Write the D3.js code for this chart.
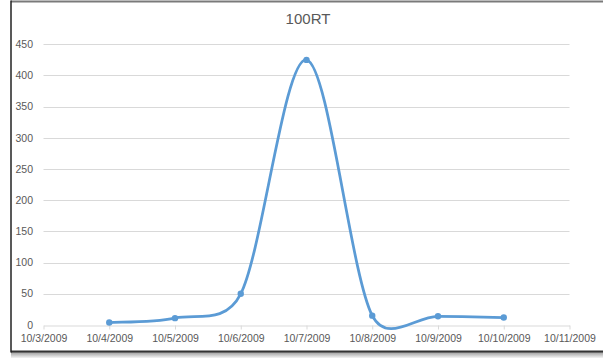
<!DOCTYPE html>
<html>
<head>
<meta charset="utf-8">
<title>100RT</title>
<style>
  body { margin: 0; background: #fff; }
  svg { display: block; font-family: "Liberation Sans", Arial, sans-serif; }
</style>
</head>
<body>
<svg width="603" height="358"></svg>
<script src="https://d3js.org/d3.v7.min.js"></script>
<script>
// data
var dates = ['10/3/2009', '10/4/2009', '10/5/2009', '10/6/2009', '10/7/2009',
             '10/8/2009', '10/9/2009', '10/10/2009', '10/11/2009'];
var values = [null, 4, 11, 50, 425, 15, 14, 12, null];
var yTicks = [0, 50, 100, 150, 200, 250, 300, 350, 400, 450];
var title = '100RT';

var svg = d3.select('svg');

// screenshot frame
var defs = svg.append('defs');
var grad = defs.append('linearGradient').attr('id', 'shadow')
  .attr('x1', 0).attr('y1', 0).attr('x2', 0).attr('y2', 1);
grad.append('stop').attr('offset', 0).attr('stop-color', '#9a9a9a');
grad.append('stop').attr('offset', 1).attr('stop-color', '#f4f4f4');
svg.append('rect').attr('x', 11).attr('y', 352).attr('width', 592).attr('height', 6)
  .attr('fill', 'url(#shadow)');
svg.append('line').attr('x1', 11).attr('x2', 603).attr('y1', 1.5).attr('y2', 1.5)
  .attr('stroke', '#7a7a7a').attr('stroke-width', 2);
svg.append('line').attr('x1', 11).attr('x2', 603).attr('y1', 351.5).attr('y2', 351.5)
  .attr('stroke', '#333').attr('stroke-width', 2);
svg.append('line').attr('x1', 11).attr('x2', 11).attr('y1', 0.5).attr('y2', 352.5)
  .attr('stroke', '#222').attr('stroke-width', 1.5);

var x = d3.scalePoint().domain(dates).range([43.5, 569.5]);
var y = d3.scaleLinear().domain([0, 450]).range([325, 44.3]);

// gridlines
svg.append('g').selectAll('line').data(yTicks.slice(1)).enter().append('line')
  .attr('x1', 43.5).attr('x2', 569.5)
  .attr('y1', function(d) { return Math.round(y(d)) + 0.5; })
  .attr('y2', function(d) { return Math.round(y(d)) + 0.5; })
  .attr('stroke', '#d9d9d9').attr('stroke-width', 1);

// y labels
svg.append('g').selectAll('text').data(yTicks).enter().append('text')
  .attr('x', 33).attr('y', function(d) { return y(d); })
  .attr('dy', '0.35em').attr('text-anchor', 'end')
  .attr('font-size', 10.5).attr('fill', '#595959')
  .text(function(d) { return d; });

// x axis
var xAxis = svg.append('g').attr('transform', 'translate(0,' + (Math.round(y(0)) + 0.5) + ')')
  .call(d3.axisBottom(x).tickSize(4).tickPadding(5).tickSizeOuter(0));
xAxis.select('.domain').attr('stroke', '#d9d9d9');
xAxis.selectAll('.tick line').attr('stroke', '#d9d9d9');
xAxis.selectAll('.tick text').attr('fill', '#595959')
  .attr('font-size', 10.5).attr('font-family', '"Liberation Sans", Arial, sans-serif');

// title
svg.append('text').attr('x', 308).attr('y', 24).attr('text-anchor', 'middle')
  .attr('font-size', 15).attr('fill', '#595959').text(title);

// spreadsheet-style smoothing: bezier with 1/6 tangents, clamped to half the segment
function curveSmooth(context) {
  var pts;
  function dist(a, b) { return Math.hypot(a[0] - b[0], a[1] - b[1]); }
  return {
    areaStart: function() {}, areaEnd: function() {},
    lineStart: function() { pts = []; },
    point: function(px, py) { pts.push([+px, +py]); },
    lineEnd: function() {
      var n = pts.length;
      if (!n) return;
      context.moveTo(pts[0][0], pts[0][1]);
      for (var i = 0; i < n - 1; i++) {
        var p0 = pts[Math.max(i - 1, 0)], p1 = pts[i], p2 = pts[i + 1], p3 = pts[Math.min(i + 2, n - 1)];
        var d12 = dist(p1, p2), d02 = dist(p0, p2), d13 = dist(p1, p3);
        var f0 = d02 / 6 < d12 / 2 ? 1 / 6 : d12 / d02 / 2;
        var f1 = d13 / 6 < d12 / 2 ? 1 / 6 : d12 / d13 / 2;
        context.bezierCurveTo(
          p1[0] + (p2[0] - p0[0]) * f0, p1[1] + (p2[1] - p0[1]) * f0,
          p2[0] - (p3[0] - p1[0]) * f1, p2[1] - (p3[1] - p1[1]) * f1,
          p2[0], p2[1]);
      }
    }
  };
}

// series
var pts = dates.map(function(d, i) { return { d: d, v: values[i] }; })
  .filter(function(p) { return p.v !== null; });

var line = d3.line()
  .x(function(p) { return x(p.d); })
  .y(function(p) { return y(p.v); })
  .curve(curveSmooth);

svg.append('path').datum(pts).attr('d', line)
  .attr('fill', 'none').attr('stroke', '#5b9bd5').attr('stroke-width', 2.75)
  .attr('stroke-linecap', 'round');

svg.append('g').selectAll('circle').data(pts).enter().append('circle')
  .attr('cx', function(p) { return x(p.d); })
  .attr('cy', function(p) { return y(p.v); })
  .attr('r', 3.2).attr('fill', '#5b9bd5');
</script>
</body>
</html>
